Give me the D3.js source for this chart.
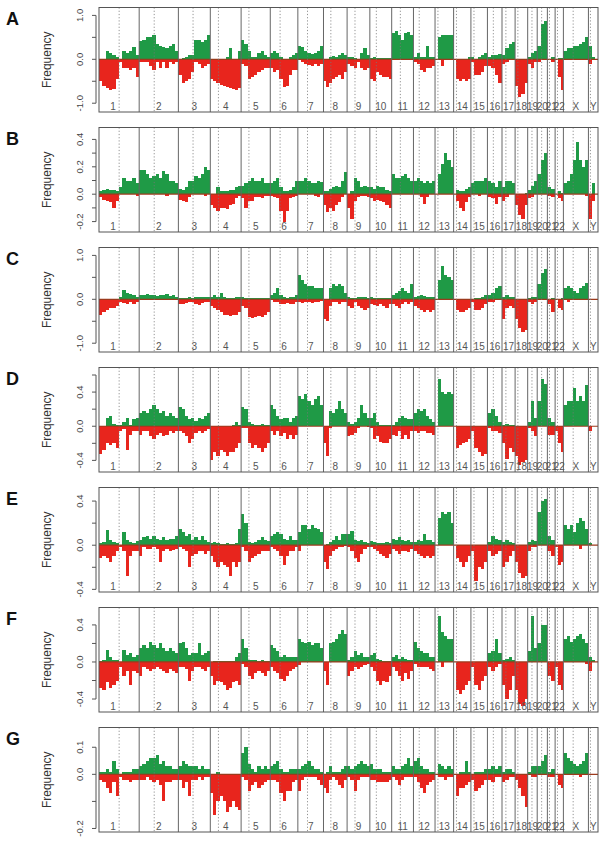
<!DOCTYPE html>
<html><head><meta charset="utf-8">
<script src="https://cdn.jsdelivr.net/npm/d3@7"></script>
<style>body{margin:0;background:#fff}</style>
</head><body>
<svg id="chart" width="604" height="844"></svg>
<script>
const chromNames = ["1","2","3","4","5","6","7","8","9","10","11","12","13","14","15","16","17","18","19","20","21","22","X","Y"];
const chromLengths = [249.25,243.2,198.0,191.15,180.9,171.1,159.1,146.4,141.2,135.5,135.0,133.9,115.2,107.3,102.5,90.4,81.2,78.1,59.1,63.0,48.1,51.3,155.3,59.4];
const centromeres = [125.0,93.3,91.0,50.4,48.4,61.0,59.9,45.6,49.0,40.2,53.7,35.8,17.9,17.6,19.0,36.6,24.0,17.2,26.5,27.5,13.2,14.7,60.6,12.5];
const panelLabels = ["A","B","C","D","E","F","G"];
const yDomains = [[-1.2,1.18],[-0.276,0.487],[-1.2,1.18],[-0.536,0.688],[-0.424,0.523],[-0.54,0.588],[-0.213,0.173]];
const yTicks = [[-1,-0.5,0,0.5,1],[-0.2,-0.1,0,0.1,0.2,0.3,0.4],[-1,-0.5,0,0.5,1],[-0.4,-0.2,0,0.2,0.4,0.6],[-0.4,-0.2,0,0.2,0.4],[-0.4,-0.2,0,0.2,0.4],[-0.2,-0.1,0,0.1]];
const yTickLabels = [[-1,0,1],[-0.2,0,0.2,0.4],[-1,0,1],[-0.4,0,0.4],[-0.4,0,0.4],[-0.4,0,0.4],[-0.2,0,0.1]];

// gain / loss frequencies, one array per chromosome (equal-width bins along each chromosome)
const gainA = [[0,0,0.2,0.15,0.1,0.05,0,0.2,0.15,0.2,0.28,0.1],[0.42,0.45,0.5,0.5,0.55,0.35,0.3,0.28,0.25,0.3,0.35,0.2],[0,0.02,0.05,0.1,0.1,0.45,0.45,0.4,0.45,0.55],[0,0,0,0,0,0.05,0.25,0,0,0.2],[0.45,0.35,0.2,0.05,0.05,0.15,0.18,0.1,0.05],[0.15,0.2,0.15,0.05,0,0,0.05,0.1,0.15],[0.3,0.28,0.2,0.15,0.12,0.15,0.2,0.3],[0,0,0.05,0.08,0.05,0.1,0.15,0.1],[0.05,0.05,0.03,0,0.15,0.25,0.1],[0.03,0.05,0.02,0.02,0.03,0.02,0.02],[0.6,0.65,0.55,0.45,0.6,0.62,0.55],[0.05,0.15,0.05,0.05,0.3,0.05,0.05],[0,0.5,0.55,0.55,0.55,0.55],[0,0,0,0,0,0.05],[0.05,0,0.05,0.1,0.15],[0.05,0.1,0.1,0.12],[0.1,0.25,0.35,0.4],[0,0,0,0],[0.05,0.15,0.2],[0.3,0.8,0.88],[0,0.05],[0,0.02,0.03],[0.2,0.25,0.25,0.3,0.3,0.35,0.4,0.5],[0.3,0.05,0]];
const lossA = [[-0.5,-0.6,-0.65,-0.7,-0.68,-0.45,-0.05,-0.2,-0.2,-0.25,-0.2,-0.4],[-0.05,-0.05,-0.05,-0.15,-0.25,-0.05,-0.2,-0.05,-0.2,-0.05,-0.1,-0.05],[-0.35,-0.55,-0.5,-0.45,-0.3,-0.05,-0.1,-0.2,-0.15,-0.1],[-0.45,-0.5,-0.55,-0.58,-0.6,-0.62,-0.65,-0.68,-0.7,-0.65],[-0.1,-0.15,-0.45,-0.4,-0.35,-0.3,-0.25,-0.2,-0.2],[-0.2,-0.3,-0.25,-0.45,-0.62,-0.6,-0.35,-0.25,-0.25],[-0.02,-0.05,-0.1,-0.12,-0.15,-0.1,-0.15,-0.1],[-0.5,-0.62,-0.55,-0.45,-0.4,-0.35,-0.45,-0.3],[-0.1,-0.15,-0.2,-0.05,-0.2,-0.25,-0.2],[-0.45,-0.5,-0.3,-0.35,-0.4,-0.4,-0.45],[0,0,0,0,0,0,0],[-0.05,-0.1,-0.25,-0.3,-0.2,-0.2,-0.15],[0,-0.02,-0.15,-0.02,-0.02,-0.02],[0,-0.45,-0.5,-0.45,-0.5,-0.45],[-0.05,-0.35,-0.35,-0.3,-0.15],[-0.15,-0.2,-0.35,-0.55],[-0.1,-0.05,0,0],[-0.6,-0.85,-0.8,-0.55],[-0.1,-0.2,-0.05],[-0.05,0,0],[0,-0.05],[0,-0.4,-0.7],[-0.02,-0.02,-0.02,-0.02,-0.02,-0.02,-0.02,-0.02],[-0.1,0,0]];

const gainB = [[0.02,0.03,0.04,0.03,0.03,0.02,0.05,0.12,0.1,0.1,0.12,0.08],[0.18,0.18,0.15,0.12,0.13,0.15,0.12,0.17,0.15,0.1,0.1,0.08],[0.04,0.03,0.05,0.1,0.1,0.13,0.12,0.15,0.2,0.18],[0,0,0.05,0.02,0.02,0.02,0.03,0.03,0.05,0.06],[0.06,0.08,0.1,0.12,0.1,0.1,0.12,0.08,0.08],[0.08,0.1,0.12,0.05,0.02,0.02,0.03,0.05,0.1],[0.1,0.1,0.12,0.1,0.08,0.08,0.1,0.09],[0.02,0.02,0.04,0.05,0.06,0.05,0.1,0.16],[0,0.02,0.12,0.1,0.05,0.06,0.05],[0.05,0.04,0.06,0.05,0.05,0.03,0.02],[0.15,0.12,0.12,0.13,0.15,0.12,0.1],[0.1,0.12,0.1,0.08,0.1,0.08,0.1],[0,0.15,0.22,0.3,0.25,0.2],[0,0.03,0.02,0.02,0.04,0.05],[0.08,0.1,0.1,0.1,0.12],[0.1,0.08,0.05,0.1],[0.05,0.1,0.1,0.08],[0,0,0,0.01],[0.03,0.06,0.1],[0.15,0.25,0.3],[0.05,0.04],[0,0.02,0.01],[0.08,0.1,0.15,0.25,0.38,0.25,0.2,0.25],[0,0.08,0]];
const lossB = [[-0.02,-0.04,-0.05,-0.06,-0.1,-0.05,0,0,0,0,0,-0.01],[0,0,0,0,0,0,0,0,-0.01,0,0,0],[-0.04,-0.05,-0.06,-0.02,0,0,0,0,-0.01,0],[-0.08,-0.1,-0.12,-0.1,-0.1,-0.11,-0.08,-0.07,-0.03,-0.01],[-0.03,-0.1,-0.05,-0.05,-0.02,-0.02,-0.03,-0.01,-0.01],[-0.01,-0.02,-0.03,-0.12,-0.2,-0.12,-0.03,-0.02,-0.01],[0,0,0,0,0,-0.01,-0.02,0],[-0.08,-0.13,-0.1,-0.12,-0.08,-0.06,-0.02,0],[-0.1,-0.18,-0.05,-0.02,-0.01,-0.01,-0.02],[-0.03,-0.05,-0.04,-0.05,-0.06,-0.08,-0.1],[0,0,0,0,0,0,0],[0,0,-0.02,-0.07,-0.02,0,0],[0,0,0,0,0,0],[0,-0.05,-0.1,-0.12,-0.06,-0.02],[0,0,-0.01,0,0],[-0.02,-0.03,-0.07,-0.02],[-0.05,-0.02,0,0],[-0.08,-0.15,-0.18,-0.08],[-0.03,-0.02,0],[0,0,0],[-0.01,-0.02],[0,-0.03,-0.05],[0,0,0,0,0,0,0,-0.01],[-0.18,-0.05,0]];

const gainC = [[0,0,0,0,0,0,0.05,0.22,0.15,0.12,0.1,0.05],[0.1,0.1,0.12,0.1,0.1,0.08,0.1,0.1,0.12,0.08,0.1,0.05],[0.02,0.03,0.02,0.05,0.03,0.05,0.05,0.05,0.05,0.05],[0.05,0.1,0.05,0.15,0.05,0.02,0.02,0.02,0.05,0.05],[0.05,0.03,0.02,0.02,0.03,0.02,0.02,0.02,0.03],[0.1,0.15,0.25,0.1,0.05,0.03,0.05,0.05,0.1],[0.55,0.45,0.35,0.3,0.3,0.25,0.25,0.25],[0,0,0.25,0.35,0.3,0.35,0.3,0.15],[0.05,0.03,0.02,0.05,0.05,0.05,0.03],[0.05,0.03,0.02,0.02,0.03,0.02,0.02],[0.1,0.15,0.2,0.25,0.2,0.15,0.35],[0.05,0.08,0.1,0.08,0.05,0.05,0.05],[0,0.45,0.75,0.55,0.5,0.45],[0,0,0,0,0,0],[0,0.02,0.02,0.05,0.1],[0.1,0.15,0.25,0.3],[0.05,0.1,0.05,0.05],[0,0,0,0],[0.03,0.05,0.05],[0.35,0.6,0.7],[0,0.02],[0,0,0.02],[0.25,0.3,0.25,0.2,0.15,0.25,0.3,0.38],[0,0,0]];
const lossC = [[-0.35,-0.3,-0.25,-0.2,-0.2,-0.15,-0.05,-0.08,-0.1,-0.05,-0.1,-0.05],[0,0,0,0,0,0,0,0,0,0,0,-0.02],[-0.1,-0.1,-0.08,-0.05,-0.05,-0.1,-0.12,-0.08,-0.05,-0.05],[-0.15,-0.2,-0.25,-0.3,-0.35,-0.35,-0.38,-0.35,-0.35,-0.3],[-0.15,-0.2,-0.4,-0.42,-0.4,-0.38,-0.4,-0.35,-0.3],[-0.02,-0.05,-0.05,-0.1,-0.1,-0.08,-0.1,-0.1,-0.05],[-0.05,-0.08,-0.05,-0.05,-0.08,-0.05,-0.05,-0.03],[-0.45,-0.5,-0.15,-0.05,-0.05,-0.1,-0.05,-0.05],[-0.15,-0.2,-0.05,-0.15,-0.2,-0.25,-0.2],[-0.1,-0.12,-0.15,-0.1,-0.15,-0.2,-0.1],[-0.1,-0.15,-0.2,-0.1,-0.05,-0.1,-0.05],[-0.15,-0.2,-0.25,-0.3,-0.25,-0.3,-0.25],[0,0,0,0,0,0],[0,-0.25,-0.3,-0.3,-0.25,-0.2],[-0.05,-0.25,-0.25,-0.2,-0.1],[-0.05,-0.05,-0.02,-0.02],[-0.45,-0.2,-0.15,-0.2],[-0.45,-0.65,-0.75,-0.7],[-0.05,-0.1,-0.05],[0,0,0],[-0.1,-0.3],[0,-0.2,-0.25],[-0.02,-0.05,-0.02,-0.02,-0.02,0,0,0],[0,0,0]];

const gainD = [[0,0,0.1,0.12,0.03,0.02,0.01,0.05,0.1,0.02,0.08,0.1],[0.15,0.18,0.15,0.2,0.25,0.2,0.15,0.18,0.12,0.15,0.12,0.1],[0.22,0.2,0.12,0.08,0.1,0.06,0.1,0.08,0.12,0.15],[0,0,0,0,0,0,0,0.02,0.05,0.02],[0.22,0.2,0.05,0.03,0.02,0.02,0.03,0.02,0.02],[0.25,0.2,0.12,0.08,0.1,0.1,0.05,0.1,0.12],[0.35,0.32,0.38,0.3,0.25,0.32,0.35,0.25],[0,0,0.18,0.15,0.2,0.3,0.2,0.15],[0.05,0.03,0.05,0.1,0.25,0.15,0.1],[0.1,0.15,0.05,0.02,0.02,0.02,0.01],[0.02,0.05,0.1,0.12,0.1,0.08,0.08],[0.15,0.2,0.18,0.2,0.12,0.08,0.05],[0,0.55,0.4,0.38,0.4,0.38],[0,0,0,0,0,0],[0,0,0,0,0],[0.15,0.2,0.12,0.05],[0.02,0.03,0.02,0.02],[0,0,0,0],[0.05,0.3,0.1],[0.3,0.55,0.5],[0.1,0.05],[0,0,0],[0.25,0.3,0.3,0.45,0.3,0.35,0.3,0.48],[0,0,0]];
const lossD = [[-0.32,-0.28,-0.2,-0.22,-0.2,-0.25,-0.05,-0.03,-0.28,-0.1,-0.05,-0.05],[-0.1,-0.05,-0.05,-0.12,-0.15,-0.1,-0.08,-0.12,-0.1,-0.05,-0.08,-0.05],[-0.05,-0.08,-0.12,-0.2,-0.15,-0.08,-0.05,-0.08,-0.05,-0.03],[-0.4,-0.3,-0.35,-0.28,-0.3,-0.35,-0.3,-0.3,-0.25,-0.2],[-0.02,-0.02,-0.2,-0.25,-0.22,-0.25,-0.3,-0.25,-0.2],[-0.05,-0.1,-0.05,-0.12,-0.08,-0.15,-0.1,-0.15,-0.1],[0,0,0,0,0,0,0,0],[-0.2,-0.35,-0.02,0,0,0,0,0],[-0.12,-0.1,-0.08,-0.02,0,0,-0.01],[-0.02,-0.15,-0.12,-0.18,-0.2,-0.2,-0.15],[-0.1,-0.12,-0.05,-0.15,-0.1,-0.15,-0.05],[-0.05,-0.08,-0.05,-0.05,-0.08,-0.08,-0.1],[0,0,0,0,0,0],[0,-0.25,-0.22,-0.2,-0.18,-0.15],[-0.05,-0.25,-0.3,-0.35,-0.32],[-0.02,-0.05,-0.05,-0.08],[-0.2,-0.38,-0.25,-0.3],[-0.35,-0.45,-0.42,-0.4],[-0.02,-0.05,-0.12],[0,0,0],[-0.1,-0.1],[-0.05,-0.2,-0.3],[0,0,0,0,0,0,0,0],[-0.05,0,0]];

const gainE = [[0.02,0.03,0.14,0.05,0.03,0.02,0,0.12,0.05,0.03,0.02,0.04],[0.05,0.07,0.08,0.06,0.08,0.06,0.05,0.07,0.05,0.06,0.06,0.08],[0.15,0.12,0.08,0.1,0.05,0.07,0.05,0.08,0.05,0.03],[0.02,0.03,0.02,0.01,0.01,0.02,0.01,0.01,0.02,0.15],[0.28,0.2,0.03,0.02,0.03,0.05,0.07,0.05,0.04],[0.08,0.1,0.12,0.1,0.06,0.05,0.08,0.05,0.05],[0.12,0.18,0.18,0.15,0.18,0.16,0.15,0.12],[0,0.01,0.03,0.05,0.08,0.05,0.1,0.1],[0.1,0.13,0.05,0.04,0.05,0.03,0.02],[0.04,0.03,0.02,0.02,0.02,0.03,0.02],[0.06,0.05,0.07,0.05,0.04,0.05,0.03],[0.03,0.05,0.04,0.1,0.05,0.05,0.03],[0,0.25,0.3,0.28,0.3,0.2],[0,0,0,0,0,0],[0,0,0,0,0],[0.03,0.08,0.06,0.05],[0.03,0.05,0.03,0.02],[0,0,0,0],[0.03,0.05,0.04],[0.3,0.4,0.42],[0.08,0.05],[0,0,0],[0.18,0.15,0.18,0.12,0.2,0.25,0.22,0.15],[0.02,0,0]];
const lossE = [[-0.12,-0.1,-0.12,-0.15,-0.1,-0.05,-0.02,-0.05,-0.28,-0.1,-0.05,-0.05],[-0.1,-0.02,-0.03,-0.03,-0.02,-0.03,-0.15,-0.05,-0.03,-0.05,-0.04,-0.03],[-0.02,-0.03,-0.05,-0.2,-0.1,-0.08,-0.05,-0.05,-0.08,-0.05],[-0.1,-0.15,-0.2,-0.15,-0.18,-0.2,-0.28,-0.15,-0.2,-0.15],[-0.02,-0.05,-0.15,-0.12,-0.1,-0.08,-0.05,-0.05,-0.05],[-0.02,-0.03,-0.05,-0.1,-0.18,-0.1,-0.05,-0.05,-0.02],[-0.05,0,0,0,0,0,0,0],[-0.15,-0.22,-0.1,-0.05,-0.03,-0.02,-0.02,-0.01],[-0.02,-0.05,-0.12,-0.15,-0.08,-0.03,-0.02],[-0.02,-0.03,-0.05,-0.08,-0.1,-0.12,-0.08],[-0.03,-0.05,-0.08,-0.05,-0.05,-0.06,-0.03],[-0.05,-0.08,-0.1,-0.12,-0.1,-0.12,-0.1],[0,0,0,0,0,0],[0,-0.12,-0.15,-0.2,-0.15,-0.1],[-0.05,-0.32,-0.2,-0.22,-0.15],[-0.05,-0.1,-0.08,-0.05],[-0.2,-0.15,-0.1,-0.05],[-0.15,-0.25,-0.3,-0.28],[-0.05,-0.02,-0.02],[0,0,0],[-0.05,-0.1],[-0.02,-0.18,-0.15],[0,0,0,0,0,-0.03,0,0],[0,0,0]];

const gainF = [[0.01,0.02,0.13,0.05,0.02,0.02,0,0.13,0.08,0.1,0.05,0.08],[0.15,0.18,0.15,0.22,0.18,0.15,0.2,0.15,0.12,0.15,0.12,0.1],[0.2,0.22,0.15,0.08,0.1,0.1,0.2,0.08,0.1,0.12],[0,0.01,0.01,0.01,0.01,0.01,0.01,0.01,0.05,0.1],[0.25,0.15,0.02,0.02,0.02,0.01,0.02,0.01,0.01],[0.18,0.15,0.12,0.05,0.08,0.05,0.05,0.05,0.05],[0.25,0.22,0.2,0.22,0.18,0.2,0.2,0.15],[0,0,0.2,0.22,0.25,0.3,0.35,0.3],[0.02,0.05,0.12,0.08,0.1,0.05,0.05],[0.08,0.1,0.03,0.02,0.01,0.01,0.01],[0.05,0.08,0.03,0.05,0.03,0.02,0.02],[0.22,0.15,0.12,0.1,0.1,0.05,0.05],[0,0.5,0.32,0.28,0.25,0.25],[0,0,0,0,0,0],[0,0,0,0,0],[0.1,0.12,0.25,0.1],[0.02,0.03,0.05,0.02],[0,0,0,0],[0.12,0.5,0.15],[0.2,0.4,0.4],[0,0],[0,0,0],[0.25,0.28,0.22,0.25,0.28,0.3,0.25,0.2],[0.05,0.02,0]];
const lossF = [[-0.28,-0.3,-0.22,-0.28,-0.25,-0.2,-0.05,-0.15,-0.1,-0.25,-0.1,-0.12],[-0.15,-0.05,-0.08,-0.1,-0.08,-0.05,-0.08,-0.1,-0.12,-0.08,-0.1,-0.12],[-0.05,-0.05,-0.08,-0.2,-0.1,-0.05,-0.05,-0.08,-0.1,-0.05],[-0.15,-0.25,-0.2,-0.22,-0.25,-0.3,-0.28,-0.22,-0.2,-0.25],[-0.02,-0.05,-0.15,-0.18,-0.12,-0.1,-0.12,-0.15,-0.1],[-0.05,-0.1,-0.12,-0.18,-0.2,-0.15,-0.1,-0.08,-0.05],[-0.03,0,0,0,0,0,0,0],[-0.1,-0.25,0,0,0,0,0,0],[-0.15,-0.1,-0.05,-0.08,-0.05,-0.03,-0.02],[-0.05,-0.1,-0.2,-0.25,-0.2,-0.22,-0.15],[-0.05,-0.1,-0.15,-0.2,-0.12,-0.18,-0.1],[-0.02,-0.05,-0.05,-0.05,-0.05,-0.08,-0.1],[0,0,-0.05,0,0,0],[0,-0.3,-0.35,-0.3,-0.25,-0.2],[-0.05,-0.25,-0.3,-0.2,-0.15],[-0.05,-0.1,-0.05,-0.02],[-0.25,-0.4,-0.3,-0.15],[-0.3,-0.45,-0.48,-0.4],[0,0,0],[0,0,0],[-0.15,-0.2],[-0.05,-0.25,-0.3],[0,0,0,0,0,0,0,-0.02],[-0.1,0,0]];

const gainG = [[0.01,0.01,0.02,0.01,0.05,0.02,0,0.01,0.01,0.01,0.02,0.02],[0.03,0.04,0.05,0.06,0.06,0.07,0.04,0.05,0.03,0.03,0.02,0.02],[0.03,0.05,0.04,0.03,0.03,0.03,0.02,0.03,0.02,0.02],[0,0,0.01,0,0,0,0,0,0,0],[0.08,0.1,0.04,0.02,0.01,0.03,0.02,0.03,0.02],[0.03,0.04,0.05,0.02,0.01,0.01,0.02,0.02,0.02],[0.02,0.03,0.04,0.05,0.03,0.02,0.02,0.01],[0,0.01,0.03,0.01,0.01,0.01,0.02,0.03],[0.03,0.02,0.03,0.04,0.05,0.04,0.03],[0.04,0.02,0.02,0.02,0.01,0.01,0.01],[0.03,0.02,0.02,0.03,0.04,0.06,0.03],[0.05,0.06,0.03,0.02,0.02,0.01,0.01],[0,0.04,0.03,0.02,0.03,0.02],[0,0,0.01,0.01,0.05,0.01],[0,0.01,0.01,0.01,0.02],[0.02,0.03,0.02,0.03],[0.01,0.02,0.02,0.01],[0,0,0,0],[0.01,0.03,0.03],[0.03,0.05,0.07],[0.01,0.02],[0,0,0],[0.08,0.06,0.05,0.04,0.03,0.04,0.05,0.08],[0,0,0]];
const lossG = [[-0.02,-0.03,-0.05,-0.07,-0.03,-0.08,-0.01,-0.02,-0.02,-0.03,-0.02,-0.02],[-0.02,-0.02,-0.01,-0.02,-0.03,-0.02,-0.04,-0.1,-0.03,-0.03,-0.02,-0.02],[-0.02,-0.05,-0.03,-0.08,-0.02,-0.02,-0.01,-0.02,-0.01,-0.01],[-0.07,-0.15,-0.1,-0.08,-0.1,-0.14,-0.12,-0.1,-0.12,-0.13],[-0.01,-0.02,-0.06,-0.04,-0.03,-0.05,-0.04,-0.03,-0.02],[-0.02,-0.02,-0.03,-0.07,-0.1,-0.06,-0.06,-0.03,-0.02],[-0.06,-0.02,-0.01,-0.01,-0.01,-0.01,-0.02,-0.04],[-0.05,-0.07,-0.02,-0.01,-0.02,-0.04,-0.05,-0.02],[-0.01,-0.02,-0.06,-0.02,-0.01,-0.01,-0.01],[-0.02,-0.02,-0.03,-0.03,-0.03,-0.03,-0.02],[-0.01,-0.02,-0.04,-0.02,-0.01,-0.01,-0.01],[-0.01,-0.03,-0.05,-0.07,-0.04,-0.03,-0.02],[0,-0.01,-0.01,-0.02,-0.01,-0.01],[0,-0.08,-0.05,-0.05,-0.04,-0.03],[-0.02,-0.06,-0.05,-0.04,-0.02],[-0.02,-0.03,-0.01,-0.01],[-0.03,-0.02,-0.01,-0.01],[-0.02,-0.05,-0.08,-0.12],[0,-0.01,-0.01],[0,0,0],[-0.01,-0.01],[0,-0.04,-0.05],[0,0,0,0,0,-0.01,0,0],[0,0,0]];

const gains = [gainA,gainB,gainC,gainD,gainE,gainF,gainG];
const losses = [lossA,lossB,lossC,lossD,lossE,lossF,lossG];

// ---- layout ----
const frameLeft = 99, frameRight = 598, panelTop0 = 7.5, panelStep = 120, panelH = 104.5;
const GREEN = "#1f9a46", RED = "#e8251d", BASE = "#9c3a1c", FRAME = "#555", GRID = "#666";
const FONT = "'Liberation Sans', Arial, sans-serif";

const svg = d3.select("#chart");
const total = d3.sum(chromLengths);
const starts = chromLengths.map((_, i) => d3.sum(chromLengths.slice(0, i)));
const x = d3.scaleLinear().domain([0, total]).range([frameLeft, frameRight]);

panelLabels.forEach((lab, i) => {
  const top = panelTop0 + i * panelStep;
  const y = d3.scaleLinear().domain(yDomains[i]).range([top + panelH, top]);
  const g = svg.append("g");

  const bins = [];
  gains[i].forEach((arr, c) => {
    const n = arr.length;
    arr.forEach((v, k) => {
      bins.push({x0: starts[c] + chromLengths[c] * k / n, x1: starts[c] + chromLengths[c] * (k + 1) / n,
                 gain: v, loss: losses[i][c][k] || 0});
    });
  });

  g.append("g").attr("shape-rendering", "crispEdges").selectAll("rect").data(bins.filter(d => d.gain > 0)).join("rect")
    .attr("x", d => x(d.x0)).attr("width", d => x(d.x1) - x(d.x0))
    .attr("y", d => y(d.gain)).attr("height", d => y(0) - y(d.gain))
    .attr("fill", GREEN);
  g.append("g").attr("shape-rendering", "crispEdges").selectAll("rect").data(bins.filter(d => d.loss < 0)).join("rect")
    .attr("x", d => x(d.x0)).attr("width", d => x(d.x1) - x(d.x0))
    .attr("y", y(0)).attr("height", d => y(d.loss) - y(0))
    .attr("fill", RED);

  // zero line
  g.append("line").attr("x1", frameLeft).attr("x2", frameRight)
    .attr("y1", y(0)).attr("y2", y(0)).attr("stroke", BASE).attr("stroke-width", 1.2);

  // chromosome separators
  g.append("g").selectAll("line").data(starts.slice(1)).join("line")
    .attr("x1", d => x(d)).attr("x2", d => x(d)).attr("y1", top).attr("y2", top + panelH)
    .attr("stroke", GRID).attr("stroke-width", 1);
  // centromeres
  g.append("g").selectAll("line").data(centromeres).join("line")
    .attr("x1", (d, c) => x(starts[c] + d)).attr("x2", (d, c) => x(starts[c] + d))
    .attr("y1", top).attr("y2", top + panelH)
    .attr("stroke", "#777").attr("stroke-width", 0.8).attr("stroke-dasharray", "1.2,2");

  // chromosome labels
  g.append("g").selectAll("text").data(chromNames).join("text")
    .attr("x", (d, c) => x(starts[c] + chromLengths[c] / 2) + (c === 0 ? -6 : 0))
    .attr("y", top + 102)
    .attr("text-anchor", "middle").attr("font-family", FONT).attr("font-size", 10)
    .attr("fill", "#555").text(d => d);

  // frame
  g.append("rect").attr("x", frameLeft).attr("y", top).attr("width", frameRight - frameLeft)
    .attr("height", panelH).attr("fill", "none").attr("stroke", FRAME).attr("stroke-width", 1);

  // y axis
  const ticks = yTicks[i];
  g.append("line").attr("x1", frameLeft - 3).attr("x2", frameLeft - 3)
    .attr("y1", y(d3.min(ticks))).attr("y2", y(d3.max(ticks))).attr("stroke", FRAME);
  g.append("g").selectAll("line").data(ticks).join("line")
    .attr("x1", frameLeft - 7).attr("x2", frameLeft - 3)
    .attr("y1", d => y(d)).attr("y2", d => y(d)).attr("stroke", FRAME);
  g.append("g").selectAll("text").data(yTickLabels[i]).join("text")
    .attr("transform", d => `translate(83,${y(d)}) rotate(-90)`)
    .attr("text-anchor", "middle").attr("font-family", FONT).attr("font-size", 9.5)
    .attr("fill", "#444").text(d => d.toFixed(1));

  g.append("text").attr("transform", `translate(51,${top + panelH / 2}) rotate(-90)`)
    .attr("text-anchor", "middle").attr("font-family", FONT).attr("font-size", 12)
    .attr("fill", "#333").text("Frequency");

  g.append("text").attr("x", 6).attr("y", top + 17.5)
    .attr("font-family", FONT).attr("font-weight", "bold").attr("font-size", 18)
    .attr("fill", "#111").text(lab);
});
</script>
</body></html>
